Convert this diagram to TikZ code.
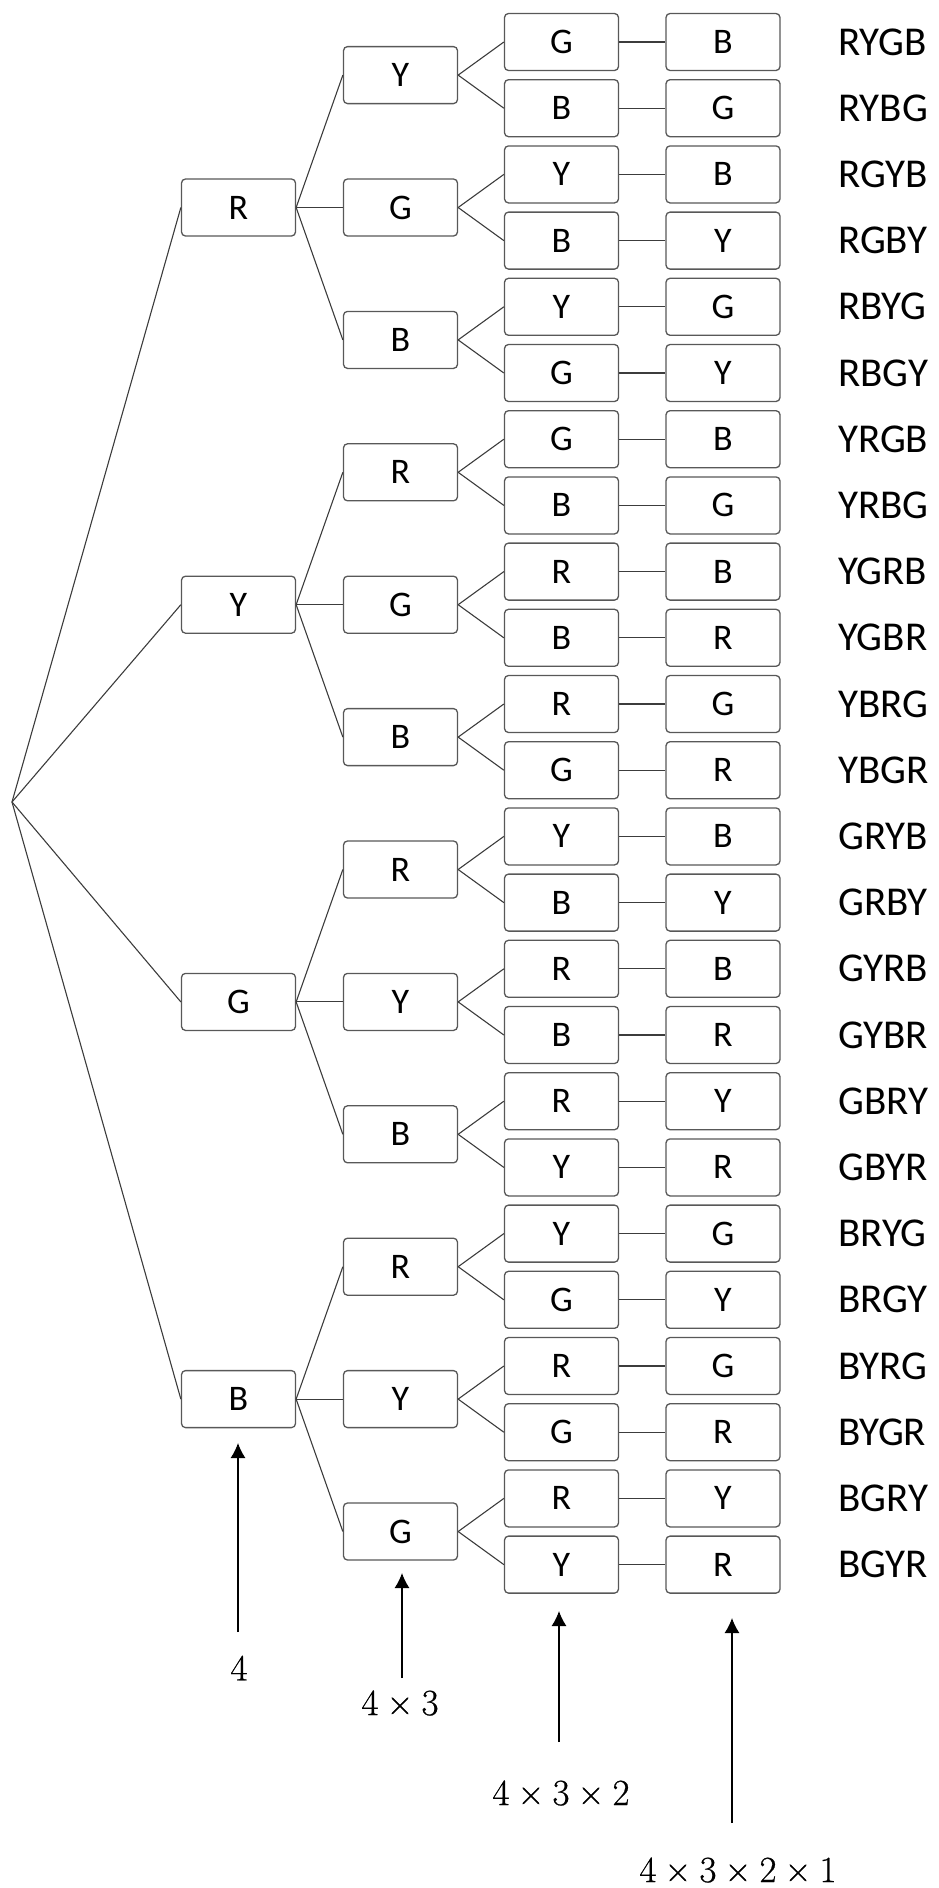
\documentclass[tikz,border=0pt]{standalone}
\usepackage{fontspec}
\newfontfamily\carl{Carlito}
\newfontfamily\numfont{Latin Modern Roman}[FakeBold=0.6]
\usetikzlibrary{arrows.meta}
\definecolor{boxc}{RGB}{88,88,88}
\definecolor{linec}{RGB}{60,60,60}
\newcommand\tms{\hspace{0.222em}\texttimes\hspace{0.222em}}
\begin{document}
\begin{tikzpicture}[x=1pt,y=-1pt,
  box/.style={draw=boxc, line width=1.3pt, rounded corners=4pt, minimum width=114pt, minimum height=57pt, inner sep=0pt, font=\carl\fontsize{36}{40}\selectfont},
  conn/.style={draw=linec, line width=1.1pt},
  arr/.style={line width=1.3pt, -{Latex[length=15pt,width=15pt]}},
  lab/.style={font=\carl\fontsize{41}{45}\selectfont, anchor=west, inner sep=0pt},
  mlab/.style={font=\numfont\fontsize{37}{40}\selectfont, inner sep=0pt}]
\useasboundingbox (0,0) rectangle (939,1888);
\coordinate (root) at (12,802);
% level 1
\foreach \k/\t in {0/R,1/Y,2/G,3/B}{
  \pgfmathsetmacro\yy{42+66.2*(6*\k+2.5)}
  \node[box] (a\k) at (238.5,\yy) {\t};
  \draw[conn] (root) -- (a\k.west);
}
% level 2
\foreach \j/\t in {0/Y,1/G,2/B,3/R,4/G,5/B,6/R,7/Y,8/B,9/R,10/Y,11/G}{
  \pgfmathsetmacro\yy{42+66.2*(2*\j+0.5)}
  \pgfmathtruncatemacro\kk{\j/3}
  \node[box] (b\j) at (400.5,\yy) {\t};
  \draw[conn] (a\kk.east) -- (b\j.west);
}
% levels 3 and 4
\foreach \i/\pa/\pb/\pc/\pd in {0/R/Y/G/B,1/R/Y/B/G,2/R/G/Y/B,3/R/G/B/Y,4/R/B/Y/G,5/R/B/G/Y,
  6/Y/R/G/B,7/Y/R/B/G,8/Y/G/R/B,9/Y/G/B/R,10/Y/B/R/G,11/Y/B/G/R,
  12/G/R/Y/B,13/G/R/B/Y,14/G/Y/R/B,15/G/Y/B/R,16/G/B/R/Y,17/G/B/Y/R,
  18/B/R/Y/G,19/B/R/G/Y,20/B/Y/R/G,21/B/Y/G/R,22/B/G/R/Y,23/B/G/Y/R}{
  \pgfmathsetmacro\yy{42+66.2*\i}
  \pgfmathtruncatemacro\jj{\i/2}
  \node[box] (c\i) at (561.5,\yy) {\pc};
  \node[box] (d\i) at (723,\yy) {\pd};
  \node[lab] (e\i) at (838,\yy) {\pa\pb\pc\pd};
  \draw[conn] (b\jj.east) -- (c\i.west);
  \draw[conn] (c\i) -- (d\i);
}
% bottom arrows and counts
\coordinate (s1) at (238,1632); \coordinate (t1) at (238,1443);
\coordinate (s2) at (402,1678); \coordinate (t2) at (402,1573);
\coordinate (s3) at (559,1742); \coordinate (t3) at (559,1611);
\coordinate (s4) at (732,1823); \coordinate (t4) at (732,1618);
\draw[arr] (s1) -- (t1);
\draw[arr] (s2) -- (t2);
\draw[arr] (s3) -- (t3);
\draw[arr] (s4) -- (t4);
\node[mlab] (m1) at (239,1668) {4};
\node[mlab] (m2) at (400,1703) {4\tms 3};
\node[mlab] (m3) at (561,1793) {4\tms 3\tms 2};
\node[mlab] (m4) at (738,1870) {4\tms 3\tms 2\tms 1};
\end{tikzpicture}
\end{document}
